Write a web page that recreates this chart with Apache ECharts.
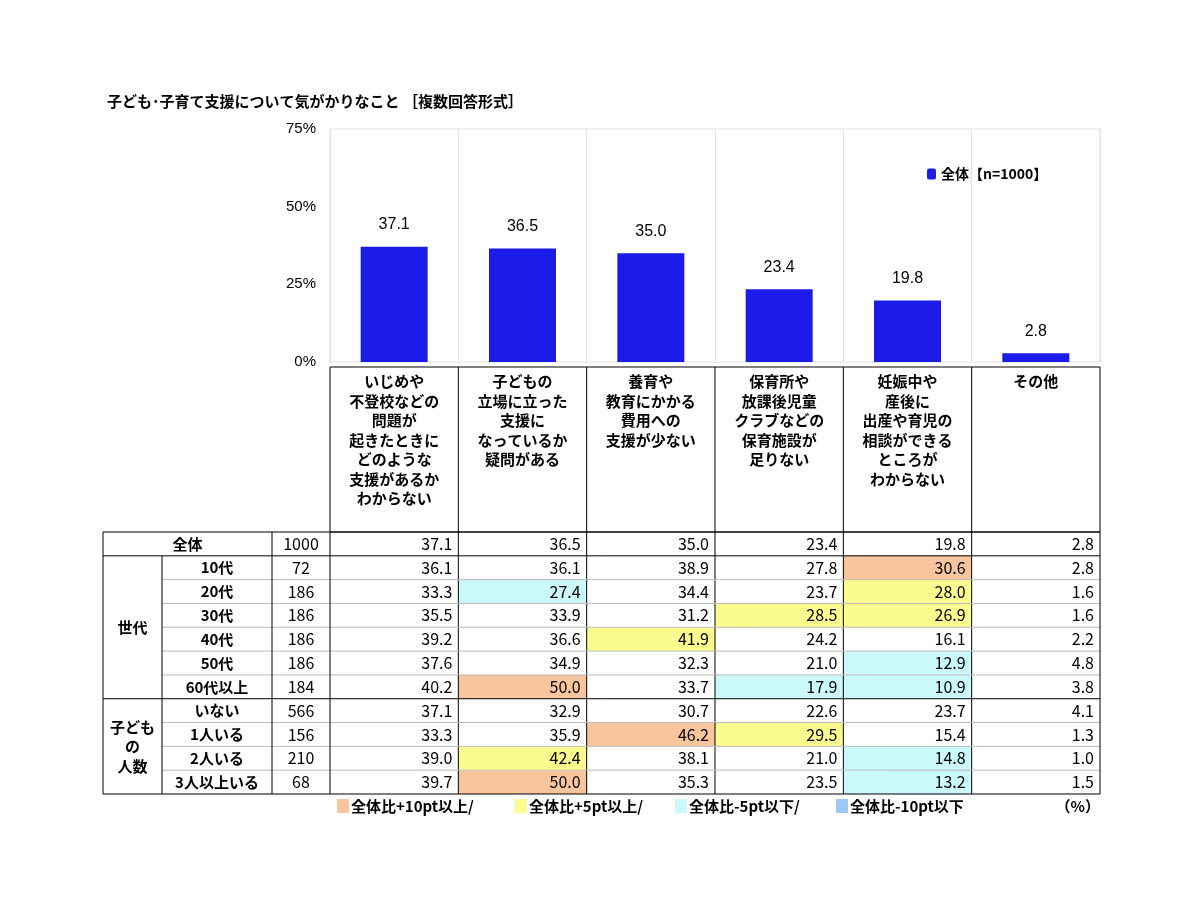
<!DOCTYPE html>
<html><head><meta charset="utf-8">
<script src="https://cdn.jsdelivr.net/npm/echarts@6/dist/echarts.min.js"></script>
<style>body{margin:0;background:#fff}#c{width:1200px;height:900px}</style>
</head><body><div id="c"></div>
<script>
var categories = ['いじめや\n不登校などの\n問題が\n起きたときに\nどのような\n支援があるか\nわからない',
  '子どもの\n立場に立った\n支援に\nなっているか\n疑問がある',
  '養育や\n教育にかかる\n費用への\n支援が少ない',
  '保育所や\n放課後児童\nクラブなどの\n保育施設が\n足りない',
  '妊娠中や\n産後に\n出産や育児の\n相談ができる\nところが\nわからない',
  'その他'];
var totalValues = [37.1, 36.5, 35.0, 23.4, 19.8, 2.8];
var groups = [['世代', 6], ['子ども\nの\n人数', 4]];
var rowLabels = ['10代', '20代', '30代', '40代', '50代', '60代以上', 'いない', '1人いる', '2人いる', '3人以上いる'];
var rowN = [72, 186, 186, 186, 186, 184, 566, 156, 210, 68];
var rowValues = [
  [36.1, 36.1, 38.9, 27.8, 30.6, 2.8],
  [33.3, 27.4, 34.4, 23.7, 28.0, 1.6],
  [35.5, 33.9, 31.2, 28.5, 26.9, 1.6],
  [39.2, 36.6, 41.9, 24.2, 16.1, 2.2],
  [37.6, 34.9, 32.3, 21.0, 12.9, 4.8],
  [40.2, 50.0, 33.7, 17.9, 10.9, 3.8],
  [37.1, 32.9, 30.7, 22.6, 23.7, 4.1],
  [33.3, 35.9, 46.2, 29.5, 15.4, 1.3],
  [39.0, 42.4, 38.1, 21.0, 14.8, 1.0],
  [39.7, 50.0, 35.3, 23.5, 13.2, 1.5]
];
var legendItems = ['全体比+10pt以上/', '全体比+5pt以上/', '全体比-5pt以下/', '全体比-10pt以下'];
var legendColors = ['#f9c59c', '#fbfb8e', '#cbf8fa', '#9cc8f6'];

var F = '"Noto Sans CJK JP", sans-serif';
var X0 = 330, X1 = 1100, CW = (X1 - X0) / 6;
var HT = 367, TT = 532, TB = 794, RH = (TB - TT) / 11;
var C1 = 103, C2 = 162, C3 = 272;
var g = [];
function line(x1, y1, x2, y2, col) {
  g.push({type: 'line', shape: {x1: x1, y1: y1, x2: x2, y2: y2}, style: {stroke: col, lineWidth: 1}, z: 10});
}
function text(x, y, s, align, bold, size) {
  g.push({type: 'text', x: x, y: y, style: {text: s, font: (bold ? 'bold ' : '') + (size || 15) + 'px ' + F,
    fill: '#000', textAlign: align, textVerticalAlign: 'middle', lineHeight: 19.5}, z: 20});
}
function colorFor(v, base) {
  var d = Math.round((v - base) * 10) / 10;
  if (d >= 10) return legendColors[0];
  if (d >= 5) return legendColors[1];
  if (d <= -10) return legendColors[3];
  if (d <= -5) return legendColors[2];
  return null;
}
// header
g.push({type: 'rect', shape: {x: X0, y: HT, width: X1 - X0, height: TT - HT}, style: {fill: 'none', stroke: '#000'}, z: 10});
categories.forEach(function (c, i) {
  if (i > 0) line(X0 + CW * i, HT, X0 + CW * i, TB, '#000');
  g.push({type: 'text', x: X0 + CW * (i + 0.5), y: 372, style: {text: c, font: 'bold 15px ' + F, fill: '#000',
    textAlign: 'center', textVerticalAlign: 'top', lineHeight: 19.5}, z: 20});
});
// body rows
var allRows = [['全体', 1000, totalValues]];
rowLabels.forEach(function (l, i) { allRows.push([l, rowN[i], rowValues[i]]); });
allRows.forEach(function (r, i) {
  var y = TT + RH * i;
  r[2].forEach(function (v, j) {
    var col = i > 0 ? colorFor(v, totalValues[j]) : null;
    if (col) g.push({type: 'rect', shape: {x: X0 + CW * j, y: y, width: CW, height: RH}, style: {fill: col}, z: 5});
    text(X0 + CW * (j + 1) - 6, y + RH / 2, v.toFixed(1), 'right', false, 16);
  });
  text(i === 0 ? (C1 + C3) / 2 : (C2 + C3) / 2, y + RH / 2, r[0], 'center', true, 15);
  text((C3 + X0) / 2, y + RH / 2, String(r[1]), 'center', false, 16);
  if (i > 0) line(i === 1 || i === 7 ? C1 : C2, y, X1, y, i === 1 || i === 7 ? '#000' : '#bbb');
});
var gy = TT + RH;
groups.forEach(function (gr) {
  text((C1 + C2) / 2, gy + RH * gr[1] / 2, gr[0], 'center', true, 15);
  gy += RH * gr[1];
});
g.push({type: 'rect', shape: {x: C1, y: TT, width: X1 - C1, height: TB - TT}, style: {fill: 'none', stroke: '#000'}, z: 11});
line(C2, TT + RH, C2, TB, '#000');
line(C3, TT, C3, TB, '#000');
line(X0, TT, X0, TB, '#000');
// bottom legend
var lx = [337, 515, 675, 836];
legendItems.forEach(function (s, i) {
  g.push({type: 'rect', shape: {x: lx[i], y: 799, width: 12, height: 14}, style: {fill: legendColors[i]}, z: 10});
  text(lx[i] + 14, 806, s, 'left', true, 15);
});
text(1100, 806, '（%）', 'right', true, 15);
text(107, 101, '子ども･子育て支援について気がかりなこと ［複数回答形式］', 'left', true, 15);

var chart = echarts.init(document.getElementById('c'));
chart.setOption({
  animation: false,
  grid: {left: X0, right: 100, top: 129, height: 233, show: true, borderColor: '#e0e0e0', borderWidth: 1},
  legend: {data: ['全体【n=1000】'], left: 922, top: 162, itemWidth: 9, itemHeight: 11, itemGap: 4,
    textStyle: {fontFamily: F, fontWeight: 'bold', fontSize: 14, color: '#000'}},
  xAxis: {type: 'category', data: categories, axisLabel: {show: false}, axisTick: {show: false},
    axisLine: {show: false}, splitLine: {show: true, lineStyle: {color: '#e0e0e0'}}},
  yAxis: {type: 'value', min: 0, max: 75, interval: 25, splitLine: {show: false},
    axisLabel: {formatter: '{value}%', fontFamily: 'Liberation Sans, Arial', fontSize: 15, color: '#000', margin: 14}},
  series: [{name: '全体【n=1000】', type: 'bar', data: totalValues, barWidth: 67, itemStyle: {color: '#1c1ce8'},
    label: {show: true, position: 'top', distance: 14, formatter: function (p) { return p.value.toFixed(1); },
      fontFamily: 'Liberation Sans, Arial', fontSize: 16, color: '#000'}}],
  graphic: g
});
</script></body></html>
